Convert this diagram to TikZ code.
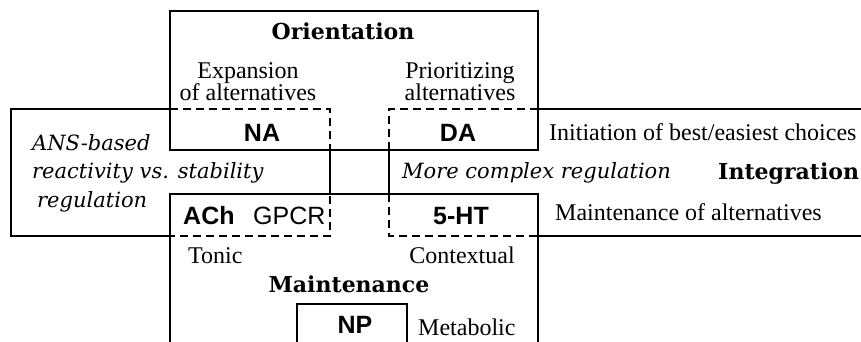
\documentclass[tikz,border=0pt]{standalone}
\usepackage{fontspec}
\setmainfont{Liberation Serif}
\newfontfamily\headfont{DejaVu Serif}
\newfontfamily\ntfont{Liberation Sans}
\tikzset{
  frame/.style={line width=1.2pt},
  dashframe/.style={line width=1.2pt,dash pattern=on 8pt off 5pt},
  lbl/.style={inner sep=0pt,font=\fontsize{24}{24}\selectfont},
  title/.style={inner sep=0pt,font=\headfont\bfseries\fontsize{22}{22}\selectfont},
  remark/.style={inner sep=0pt,font=\headfont\itshape\fontsize{21}{21}\selectfont},
  trans/.style={inner sep=0pt,font=\ntfont\bfseries\fontsize{25}{25}\selectfont},
}
\begin{document}
\begin{tikzpicture}[x=1pt,y=-1pt]
\useasboundingbox (0,0) rectangle (861,342);
\clip (0,0) rectangle (861,342);
% frames
\draw[frame] (170,11) rectangle (538,150);
\draw[frame] (170,194) rectangle (538,360);
\draw[frame] (170,109) -- (11,109) -- (11,236) -- (170,236);
\draw[frame] (538,109) -- (880,109) (538,236) -- (880,236);
\draw[dashframe] (170,109) -- (330,109) -- (330,236) -- (170,236);
\draw[dashframe] (538,109) -- (389,109) -- (389,236) -- (538,236);
\draw[frame] (330,150) -- (330,194) (389,150) -- (389,194);
\draw[frame] (297,304) rectangle (407,360);

% orientation
\node[title,anchor=base] (orient) at (343,40) {Orientation};
\node[lbl,anchor=base] (expa) at (248,79) {Expansion};
\node[lbl,anchor=base] (expb) at (248,101) {of alternatives};
\node[lbl,anchor=base] (pria) at (460,79) {Prioritizing};
\node[lbl,anchor=base] (prib) at (460,101) {alternatives};
\node[trans,anchor=base] (na) at (262,141) {NA};
\node[trans,anchor=base] (da) at (458,141) {DA};
\node[lbl,anchor=base west] (init) at (549,140) {Initiation of best/easiest choices};

% integration
\node[remark,anchor=base west] (ansa) at (32,150) {ANS-based};
\node[remark,anchor=base west] (ansb) at (32,178) {reactivity vs. stability};
\node[remark,anchor=base west] (ansc) at (37,207) {regulation};
\node[remark,anchor=base west] (cplx) at (402,178) {More complex regulation};
\node[title,anchor=base west] (integ) at (718,179) {Integration};

% maintenance
\node[trans,anchor=base west] (ach) at (183,224) {ACh};
\node[trans,font=\ntfont\fontsize{25}{25}\selectfont,anchor=base west] (gpcr) at (253,224) {GPCR};
\node[trans,anchor=base] (ht) at (461,224) {5-HT};
\node[lbl,anchor=base west] (keep) at (555,220) {Maintenance of alternatives};
\node[lbl,anchor=base west] (tonic) at (188,263) {Tonic};
\node[lbl,anchor=base] (ctx) at (462,263) {Contextual};
\node[title,anchor=base] (maint) at (349,292) {Maintenance};
\node[trans,anchor=base] (np) at (355,333) {NP};
\node[lbl,anchor=base west] (meta) at (418,335) {Metabolic};
\end{tikzpicture}
\end{document}
